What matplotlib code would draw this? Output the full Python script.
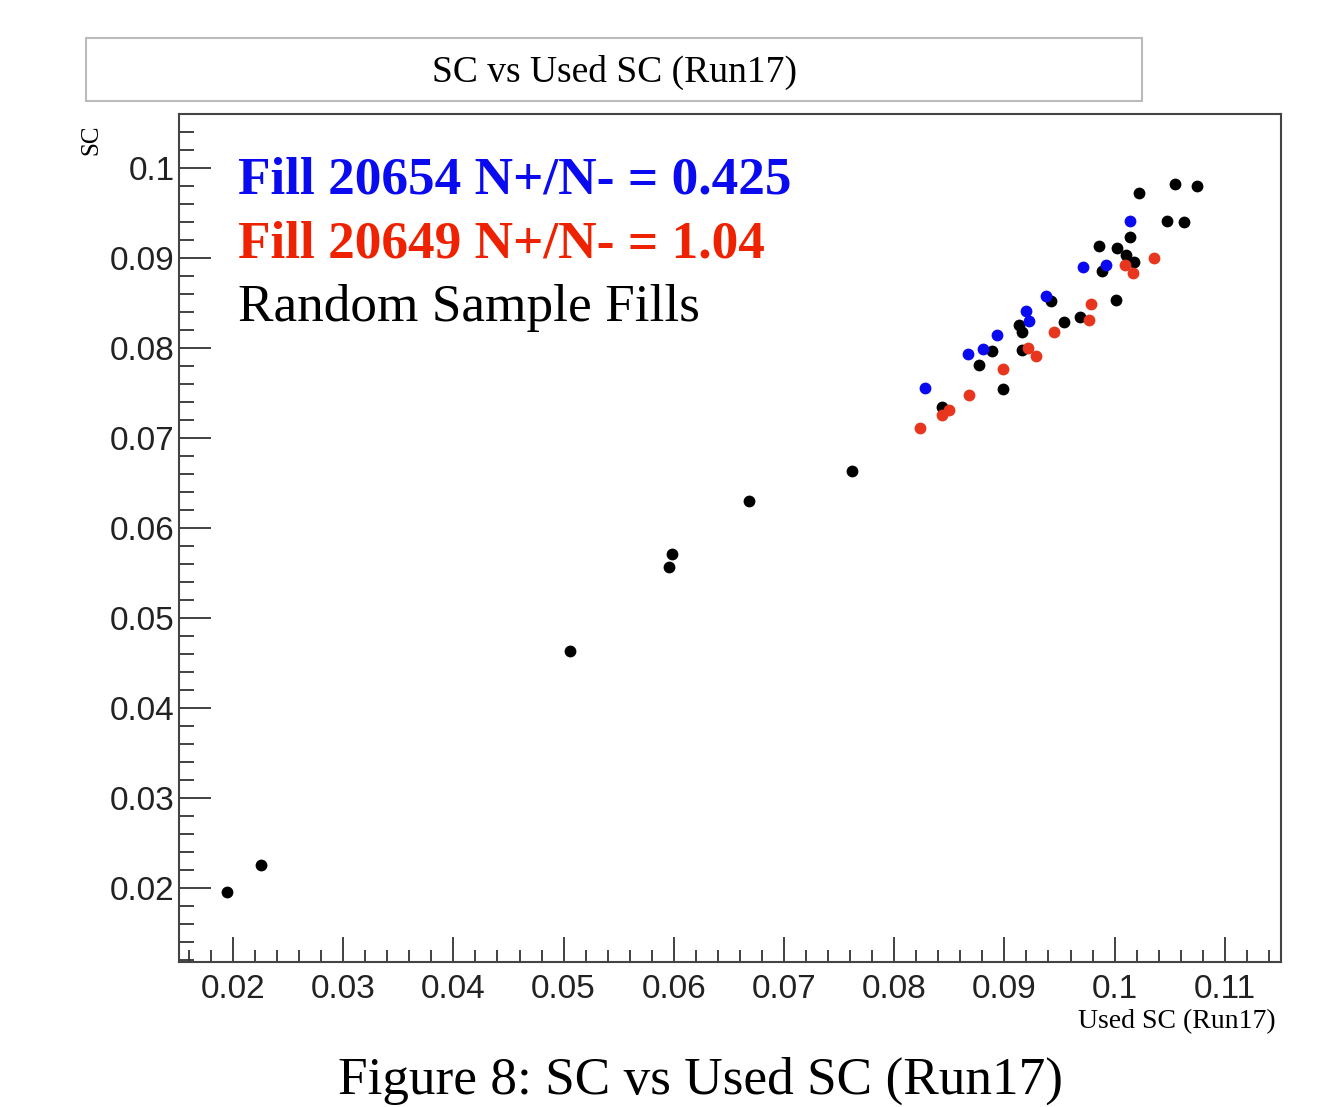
import matplotlib
matplotlib.use("Agg")
import matplotlib.pyplot as plt
from matplotlib.patches import Rectangle
from matplotlib.ticker import MultipleLocator

# random sample fills (black)
rand_x = [0.0195, 0.0225, 0.0506, 0.0596, 0.0598, 0.0668, 0.0762, 0.0843,
          0.0877, 0.0889, 0.0899, 0.0916, 0.0913, 0.0916, 0.0942, 0.0954,
          0.0969, 0.1001, 0.0989, 0.0986, 0.1002, 0.1010, 0.1018, 0.1014,
          0.1022, 0.1048, 0.1063, 0.1055, 0.1075]
rand_y = [0.0196, 0.0226, 0.0463, 0.0557, 0.0571, 0.0630, 0.0663, 0.0734,
          0.0781, 0.0797, 0.0754, 0.0798, 0.0826, 0.0818, 0.0852, 0.0829,
          0.0834, 0.0853, 0.0886, 0.0913, 0.0911, 0.0903, 0.0896, 0.0923,
          0.0972, 0.0941, 0.0940, 0.0982, 0.0980]

# fill 20654 (blue)
f54_x = [0.0828, 0.0867, 0.0881, 0.0893, 0.0920, 0.0922, 0.0938, 0.0971,
         0.0992, 0.1014]
f54_y = [0.0756, 0.0793, 0.0799, 0.0814, 0.0841, 0.0830, 0.0858, 0.0890,
         0.0892, 0.0941]

# fill 20649 (red)
f49_x = [0.0823, 0.0843, 0.0850, 0.0868, 0.0899, 0.0921, 0.0929, 0.0945,
         0.0977, 0.0979, 0.1009, 0.1017, 0.1036]
f49_y = [0.0711, 0.0726, 0.0731, 0.0748, 0.0777, 0.0800, 0.0791, 0.0818,
         0.0831, 0.0849, 0.0892, 0.0883, 0.0900]

W, H = 1322, 1107
fig = plt.figure(figsize=(W / 100, H / 100), dpi=100)
ax = fig.add_axes([179 / W, 1 - 962 / H, (1281 - 179) / W, (962 - 114) / H])

ms = 8.5
ax.plot(rand_x, rand_y, 'o', color='black', ms=ms, mec='none')
ax.plot(f49_x, f49_y, 'o', color='#e8351e', ms=ms, mec='none')
ax.plot(f54_x, f54_y, 'o', color='#0a0af0', ms=ms, mec='none')

ax.set_xlim(0.0151, 0.1151)
ax.set_ylim(0.0118, 0.1060)
ax.xaxis.set_major_locator(MultipleLocator(0.01))
ax.xaxis.set_minor_locator(MultipleLocator(0.002))
ax.yaxis.set_major_locator(MultipleLocator(0.01))
ax.yaxis.set_minor_locator(MultipleLocator(0.002))
fmt = plt.FuncFormatter(lambda v, p: ('%.2f' % v).rstrip('0'))
ax.xaxis.set_major_formatter(fmt)
ax.yaxis.set_major_formatter(fmt)

ax.tick_params(axis='x', which='major', direction='in', length=18, width=1.3,
               color='#333333', pad=9, labelsize=24, labelcolor='#222222')
ax.tick_params(axis='x', which='minor', direction='in', length=9, width=1.3,
               color='#333333')
ax.tick_params(axis='y', which='major', direction='in', length=23, width=1.3,
               color='#333333', pad=3, labelsize=24, labelcolor='#222222')
ax.tick_params(axis='y', which='minor', direction='in', length=11, width=1.3,
               color='#333333')
for lab in ax.get_xticklabels() + ax.get_yticklabels():
    lab.set_family('Liberation Sans')
for s in ax.spines.values():
    s.set_linewidth(1.5)
    s.set_color('#444444')

serif = 'Liberation Serif'

# title box
fig.patches.append(Rectangle((86 / W, 1 - 101 / H), (1142 - 86) / W, 63 / H,
                             transform=fig.transFigure, fill=False,
                             edgecolor='#bbbbbb', linewidth=1.5))
fig.text(614 / W, 1 - 72 / H, 'SC vs Used SC (Run17)', family=serif,
         fontsize=27, ha='center', va='center')

fig.text(91 / W, 1 - 140 / H, 'SC', family=serif, fontsize=18,
         rotation=90, ha='center', va='center')
fig.text(1276 / W, 1 - 1028 / H, 'Used SC (Run17)', family=serif,
         fontsize=20, ha='right', va='baseline')

fig.text(238 / W, 1 - 193 / H, 'Fill 20654 N+/N- = 0.425', family=serif,
         fontsize=38.3, fontweight='bold', color='#0a0af0', va='baseline')
fig.text(238 / W, 1 - 258 / H, 'Fill 20649 N+/N- = 1.04', family=serif,
         fontsize=38.3, fontweight='bold', color='#ee2200', va='baseline')
fig.text(238 / W, 1 - 321 / H, 'Random Sample Fills', family=serif,
         fontsize=38.3, color='black', va='baseline')

fig.text(701 / W, 1 - 1094 / H, 'Figure 8: SC vs Used SC (Run17)',
         family=serif, fontsize=38.3, ha='center', va='baseline')

fig.savefig('out.png', dpi=100)
